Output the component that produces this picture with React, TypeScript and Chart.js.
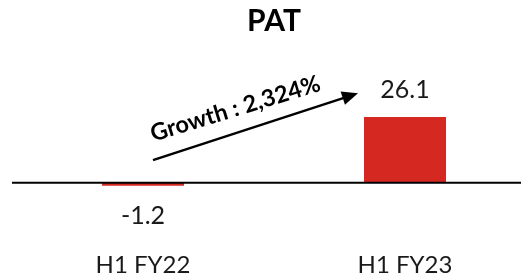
import React, { useEffect, useRef } from "react";
import { Chart, registerables } from "chart.js";

Chart.register(...registerables);

const categories = ["H1 FY22", "H1 FY23"];
const patValues = [-1.2, 26.1];
const valueLabels = ["-1.2", "26.1"];
const chartTitle = "PAT";
const growthLabel = "Growth : 2,324%";

const FONT = "Lato, 'Liberation Sans', Arial, sans-serif";
const BAR_RED = "#d52820";
const TEXT_DARK = "#1a1a1a";

const overlayPlugin = {
  id: "patOverlay",
  afterDatasetsDraw(chart: any) {
    const { ctx, chartArea, scales } = chart;
    const x = scales.x;
    const y = scales.y;
    const zeroY = y.getPixelForValue(0);

    ctx.save();
    // zero line
    ctx.strokeStyle = "#000";
    ctx.lineWidth = 2;
    ctx.beginPath();
    ctx.moveTo(chartArea.left, zeroY);
    ctx.lineTo(chartArea.right, zeroY);
    ctx.stroke();

    // value labels
    const meta = chart.getDatasetMeta(0);
    ctx.fillStyle = TEXT_DARK;
    ctx.font = `25px ${FONT}`;
    ctx.textAlign = "center";
    ctx.textBaseline = "alphabetic";
    meta.data.forEach((bar: any, i: number) => {
      const v = patValues[i];
      if (v >= 0) {
        ctx.fillText(valueLabels[i], bar.x, bar.y - 18.5);
      } else {
        ctx.fillText(valueLabels[i], bar.x, bar.y + 38);
      }
    });

    // growth arrow
    const sx = x.getPixelForValue(0) + 10;
    const sy = y.getPixelForValue(9);
    const ex = x.getPixelForValue(1) - 47;
    const ey = y.getPixelForValue(35.5);
    const ang = Math.atan2(ey - sy, ex - sx);
    const headLen = 16;
    const headHalf = 7;
    ctx.strokeStyle = "#000";
    ctx.fillStyle = "#000";
    ctx.lineWidth = 2.5;
    ctx.beginPath();
    ctx.moveTo(sx, sy);
    ctx.lineTo(ex - Math.cos(ang) * (headLen - 2), ey - Math.sin(ang) * (headLen - 2));
    ctx.stroke();
    ctx.beginPath();
    ctx.moveTo(ex, ey);
    const bx = ex - Math.cos(ang) * headLen;
    const by = ey - Math.sin(ang) * headLen;
    ctx.lineTo(bx + Math.sin(ang) * headHalf, by - Math.cos(ang) * headHalf);
    ctx.lineTo(bx - Math.sin(ang) * headHalf, by + Math.cos(ang) * headHalf);
    ctx.closePath();
    ctx.fill();

    // growth text
    const mx = (sx + ex) / 2;
    const my = (sy + ey) / 2;
    ctx.translate(mx, my);
    ctx.rotate(ang + 0.02);
    ctx.font = `bold 23.5px ${FONT}`;
    ctx.fillStyle = "#000";
    ctx.textAlign = "center";
    ctx.textBaseline = "middle";
    ctx.fillText(growthLabel, -14, -23);
    ctx.restore();
  },
};

export default function App() {
  const canvasRef = useRef<HTMLCanvasElement | null>(null);

  useEffect(() => {
    let chart: Chart | null = null;
    let cancelled = false;
    const make = () => {
      if (cancelled || !canvasRef.current) return;
      chart = new Chart(canvasRef.current, {
        type: "bar",
        data: {
          labels: categories,
          datasets: [
            {
              data: patValues,
              backgroundColor: BAR_RED,
              borderWidth: 0,
              barPercentage: 0.313,
              categoryPercentage: 1,
            },
          ],
        },
        options: {
          responsive: false,
          animation: false,
          layout: { padding: { left: 12, right: 0, top: 0, bottom: 4 } },
          plugins: {
            legend: { display: false },
            tooltip: { enabled: false },
            title: {
              display: true,
              text: chartTitle,
              color: "#000",
              font: { family: FONT, size: 30, weight: "bold" },
              padding: { top: 3, bottom: 0 },
            },
          },
          scales: {
            x: {
              grid: { display: false, drawTicks: false },
              border: { display: false },
              ticks: {
                color: TEXT_DARK,
                font: { family: FONT, size: 24 },
                padding: 16,
              },
            },
            y: {
              display: false,
              min: -20.75,
              max: 57,
            },
          },
        },
        plugins: [overlayPlugin],
      });
    };
    const fonts: any = (document as any).fonts;
    if (fonts && fonts.load) {
      Promise.all([
        fonts.load(`bold 30px Lato`),
        fonts.load(`25px Lato`),
        fonts.load(`bold 23.5px Lato`),
      ])
        .catch(() => {})
        .then(make);
    } else {
      make();
    }
    return () => {
      cancelled = true;
      if (chart) chart.destroy();
    };
  }, []);

  return (
    <div
      style={{
        position: "fixed",
        left: 0,
        top: 0,
        width: 521,
        height: 280,
        overflow: "hidden",
        background: "#fff",
      }}
    >
      <canvas ref={canvasRef} width={536} height={300} style={{ display: "block" }} />
    </div>
  );
}
